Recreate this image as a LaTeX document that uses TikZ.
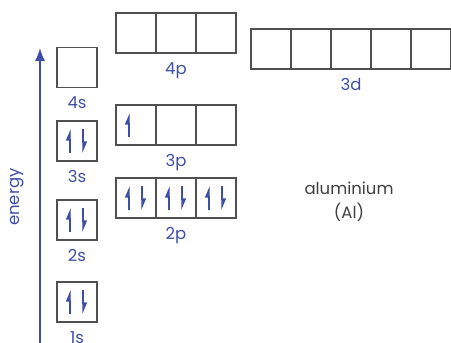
\documentclass[tikz,border=0pt]{standalone}
\usepackage{fontspec}
\setmainfont{Poppins}
\usetikzlibrary{positioning,arrows.meta}
\definecolor{eblue}{RGB}{62,78,168}
\definecolor{boxgray}{RGB}{80,80,80}
\newcommand{\eup}[1]{\draw[eblue,line width=1.3pt,-{Triangle[left,length=10pt,width=8pt]}] ([xshift=-7pt,yshift=-12pt]#1.center) -- ([xshift=-7pt,yshift=12pt]#1.center);}
\newcommand{\edn}[1]{\draw[eblue,line width=1.3pt,-{Triangle[left,length=10pt,width=8pt]}] ([xshift=6pt,yshift=12pt]#1.center) -- ([xshift=6pt,yshift=-12pt]#1.center);}

\begin{document}
\begin{tikzpicture}[x=1pt,y=1pt,
    orb/.style={draw=boxgray,line width=1.1pt,minimum size=40pt,inner sep=0pt,outer sep=0pt},
    lbl/.style={eblue,font=\fontsize{16.5}{19}\selectfont,inner sep=0pt}]
  \useasboundingbox (0,0) rectangle (451,343);
  % energy axis
  \coordinate (ebot) at (40,0);
  \coordinate (etop) at (40,295);
  \draw[eblue,line width=1.3pt,-{Latex[length=13pt,width=10pt]}] (ebot) -- (etop);
  \node[lbl,rotate=90] (energy) at (17,146) {energy};
  % s orbitals
  \node[orb] (s1) at (77,41) {};
  \node[orb] (s2) at (77,123) {};
  \node[orb] (s3) at (77,202) {};
  \node[orb] (s4) at (77,275.5) {};
  \node[lbl,below=9pt of s1] (l1s) {1s};
  \node[lbl,below=9pt of s2] (l2s) {2s};
  \node[lbl,below=9pt of s3] (l3s) {3s};
  \node[lbl,below=9pt of s4] (l4s) {4s};
  % p orbitals
  \node[orb] (p2a) at (136,145) {};
  \node[orb,right=0pt of p2a] (p2b) {};
  \node[orb,right=0pt of p2b] (p2c) {};
  \node[orb] (p3a) at (136,218) {};
  \node[orb,right=0pt of p3a] (p3b) {};
  \node[orb,right=0pt of p3b] (p3c) {};
  \node[orb] (p4a) at (136,310) {};
  \node[orb,right=0pt of p4a] (p4b) {};
  \node[orb,right=0pt of p4b] (p4c) {};
  \node[lbl,below=9pt of p2b] (l2p) {2p};
  \node[lbl,below=9pt of p3b] (l3p) {3p};
  \node[lbl,below=9pt of p4b] (l4p) {4p};
  % d orbitals
  \node[orb] (d3a) at (271,294) {};
  \node[orb,right=0pt of d3a] (d3b) {};
  \node[orb,right=0pt of d3b] (d3c) {};
  \node[orb,right=0pt of d3c] (d3d) {};
  \node[orb,right=0pt of d3d] (d3e) {};
  \node[lbl,below=9pt of d3c] (l3d) {3d};
  % electrons
  \foreach \b in {s1,s2,s3,p2a,p2b,p2c}{\eup{\b}\edn{\b}}
  \eup{p3a}
  \node[font=\fontsize{16.5}{24}\selectfont,text=black!75,align=center] (elem) at (349,141) {aluminium\\(Al)};
\end{tikzpicture}
\end{document}
